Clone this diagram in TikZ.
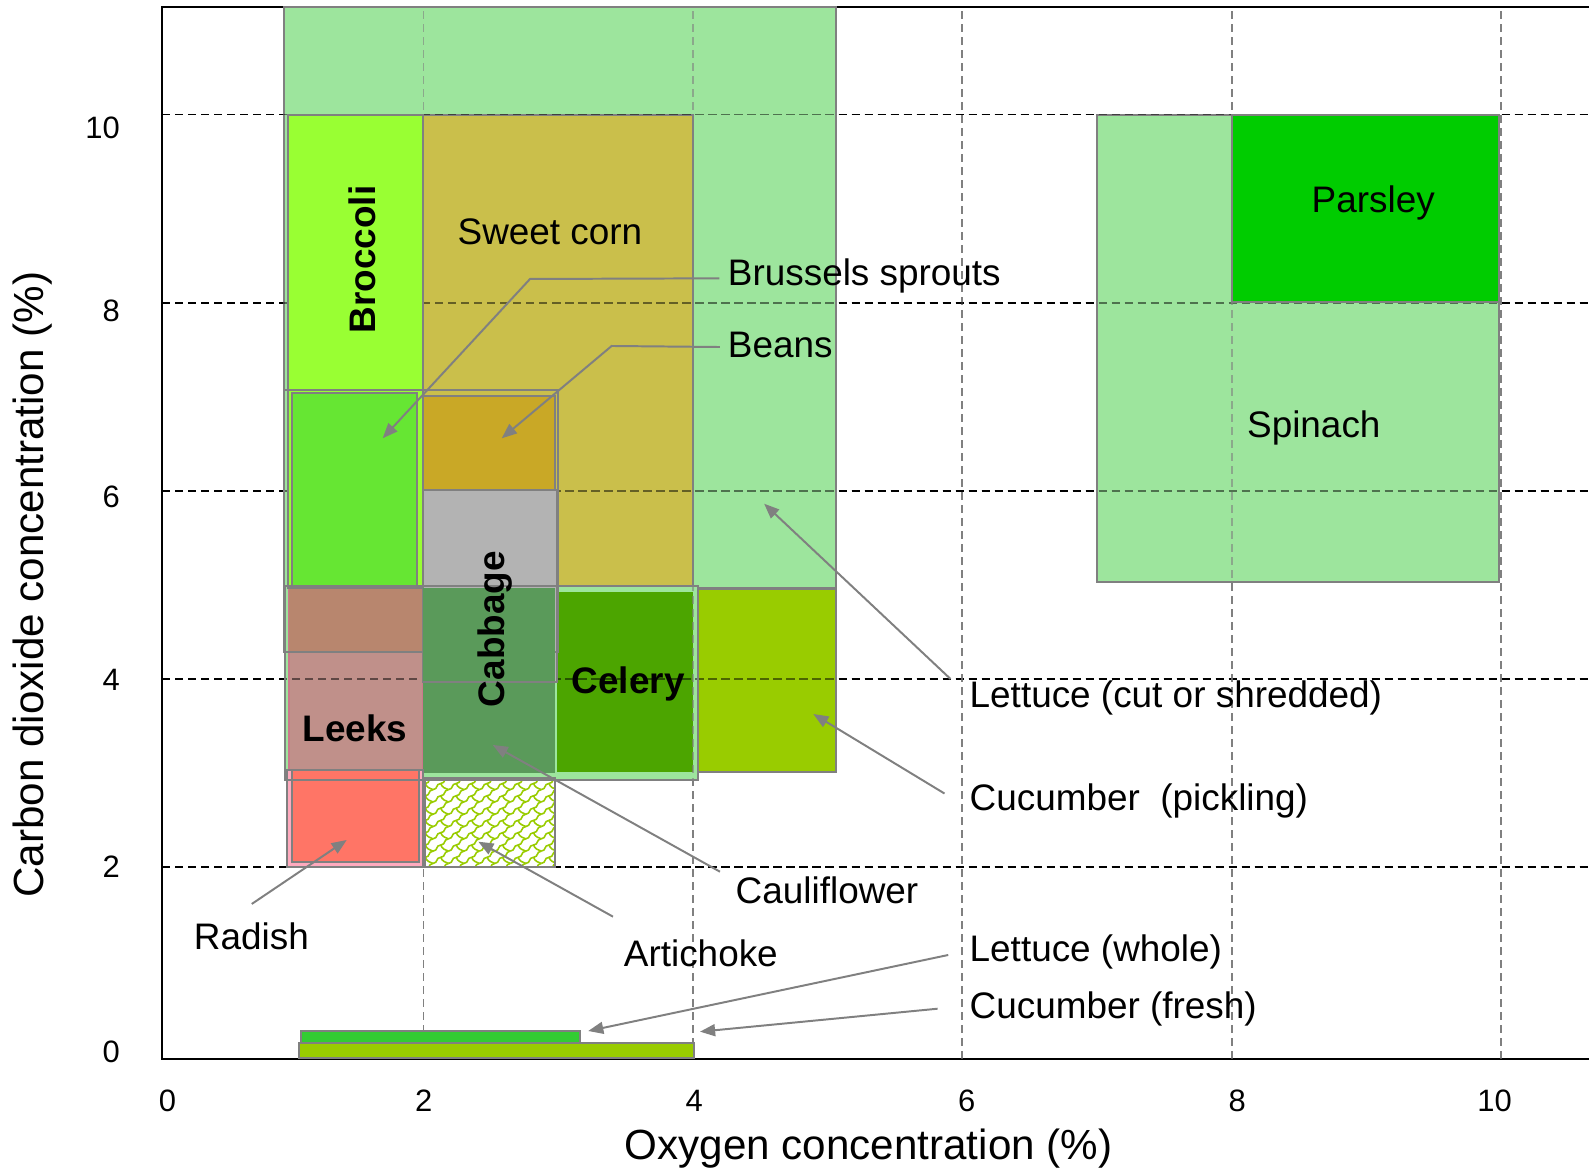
\documentclass[tikz,border=0pt]{standalone}
\usepackage{fontspec}
\setmainfont{Liberation Sans}
\usetikzlibrary{arrows.meta,patterns}

\definecolor{edgegray}{RGB}{128,128,128}
\definecolor{lettucecut}{RGB}{157,229,157}
\definecolor{broccoli}{RGB}{153,255,51}
\definecolor{sweetcorn}{RGB}{202,191,75}
\definecolor{sprouts}{RGB}{102,230,51}
\definecolor{beans}{RGB}{201,168,38}
\definecolor{cabbage}{RGB}{179,179,179}
\definecolor{cabbagemix}{RGB}{90,154,90}
\definecolor{celery}{RGB}{76,165,0}
\definecolor{leeks}{RGB}{192,144,138}
\definecolor{leeksmix}{RGB}{184,134,110}
\definecolor{leeksedge}{RGB}{204,120,140}
\definecolor{cucumber}{RGB}{153,204,0}
\definecolor{radish}{RGB}{255,117,102}
\definecolor{radishedge}{RGB}{255,170,190}
\definecolor{parsley}{RGB}{0,204,0}
\definecolor{lettucewhole}{RGB}{51,204,51}

\pgfdeclarepatternformonly{scales}{\pgfqpoint{-0.5pt}{-0.5pt}}{\pgfqpoint{4.9pt}{4pt}}{\pgfqpoint{4.4pt}{3.5pt}}{%
  \pgfsetlinewidth{0.45pt}%
  \pgfpathmoveto{\pgfqpoint{0pt}{0pt}}%
  \pgfpathcurveto{\pgfqpoint{1.6pt}{0.2pt}}{\pgfqpoint{0.6pt}{1.6pt}}{\pgfqpoint{2.2pt}{1.75pt}}%
  \pgfpathcurveto{\pgfqpoint{3.8pt}{1.9pt}}{\pgfqpoint{2.8pt}{3.3pt}}{\pgfqpoint{4.4pt}{3.5pt}}%
  \pgfpathmoveto{\pgfqpoint{2.2pt}{1.75pt}}%
  \pgfpathcurveto{\pgfqpoint{2.6pt}{0.6pt}}{\pgfqpoint{3.6pt}{0.3pt}}{\pgfqpoint{4.4pt}{0pt}}%
  \pgfusepath{stroke}}

\begin{document}
\begin{tikzpicture}
    [x=1.347cm, y=0.941cm,
    box/.style={draw=edgegray, line width=0.62pt},
    hgrid/.style={draw=black, line width=0.48pt, dash pattern=on 2.3pt off 1.4pt},
    vgrid/.style={draw=edgegray, line width=0.48pt, dash pattern=on 2.3pt off 1.4pt},
    pointer/.style={draw=edgegray, line width=0.56pt, -{Triangle[length=4.3pt, width=3.4pt]}},
    tag/.style={font=\fontsize{10.5}{12}\selectfont, inner sep=0pt},
    crop/.style={font=\fontsize{10.5}{12}\selectfont\bfseries, inner sep=0pt},
    num/.style={font=\fontsize{8.8}{10}\selectfont, inner sep=0pt},
    axistitle/.style={font=\fontsize{12}{14}\selectfont, inner sep=0pt}]
    \useasboundingbox (-1.144,-1.2274) rectangle (10.653,11.217);

    % grid and frame
    \foreach \v in {2,4,...,10} {
      \draw[hgrid] (0.061,\v) -- (10.653,\v);
      \draw[vgrid] (\v,-0.037) -- (\v,11.139);
    }
    \draw[line width=0.5pt] (10.653,-0.037) -- (0.061,-0.037) -- (0.061,11.139) -- (10.653,11.139);

    % ranges the grid shows through
    \filldraw[box, fill=lettucecut] (0.964,4.968) rectangle (5.062,11.139);
    \filldraw[box, fill=lettucecut] (7.002,5.035) rectangle (9.985,9.995);
    \filldraw[box, fill=sweetcorn] (1.999,4.968) rectangle (4.003,9.995);
    \fill[lettucecut] (0.972,2.928) rectangle (4.038,4.985);
    \filldraw[draw=leeksedge, line width=0.57pt, fill=leeks] (1.004,3.002) rectangle (1.999,4.968);
    \fill[leeksmix] (1.004,4.291) rectangle (1.999,4.968);
    \fill[celery] (2.989,3.016) rectangle (4.003,4.929);
    \filldraw[box, fill=cucumber] (4.038,3.016) rectangle (5.062,4.954);
    \foreach \v in {2,4,...,10} {
      \draw[hgrid, draw opacity=0.5] (0.061,\v) -- (10.653,\v);
      \draw[vgrid, draw opacity=0.6] (\v,-0.037) -- (\v,11.139);
    }

    % solid ranges
    \filldraw[box, fill=broccoli] (0.992,4.968) rectangle (1.999,9.995);
    \filldraw[box, fill=sprouts] (1.022,4.968) rectangle (1.954,7.044);
    \filldraw[box, fill=cabbage] (1.999,3.972) rectangle (2.991,6.010);
    \draw[box] (0.964,4.291) rectangle (2.999,7.072);
    \fill[cabbagemix] (1.999,3.002) rectangle (2.976,4.968);
    \draw[box] (1.999,3.972) -- (2.991,3.972);
    \filldraw[box, fill=beans] (1.999,6.010) rectangle (2.976,7.009);
    \filldraw[box, fill=parsley] (8.005,8.011) rectangle (9.985,9.995);
    \filldraw[box, fill=radishedge] (0.984,2.003) rectangle (1.994,3.034);
    \filldraw[box, fill=radish] (1.022,2.059) rectangle (1.969,3.034);
    \filldraw[box, fill=white] (2.011,2.0) rectangle (2.976,2.949);
    \fill[pattern=scales, pattern color=cucumber] (2.011,2.0) rectangle (2.976,2.949);
    \draw[box] (2.011,2.0) rectangle (2.976,2.949);
    \draw[box] (0.972,2.928) rectangle (4.038,4.985);
    \filldraw[box, fill=cucumber] (1.076,-0.03) rectangle (4.008,0.136);
    \filldraw[box, fill=lettucewhole] (1.088,0.136) rectangle (3.162,0.264);

    % names inside the ranges
    \node[crop, rotate=90] (broc) at (1.547,8.459) {Broccoli};
    \node[tag] (corn) at (2.939,8.755) {Sweet corn};
    \node[tag] (pars) at (9.051,9.059) {Parsley};
    \node[tag] (spin) at (8.610,6.665) {Spinach};
    \node[crop, rotate=90] (cabb) at (2.531,4.530) {Cabbage};
    \node[crop] (cel) at (3.520,3.948) {Celery};
    \node[crop] (leek) at (1.491,3.477) {Leeks};

    % names outside, with pointers
    \node[tag, anchor=west] (brus) at (4.255,8.284) {Brussels sprouts};
    \node[tag, anchor=west] (bean) at (4.255,7.551) {Beans};
    \node[tag, anchor=west] (lcut) at (6.05,3.797) {Lettuce (cut or shredded)};
    \node[tag, anchor=west] (cpick) at (6.05,2.709) {Cucumber\ \ (pickling)};
    \node[tag, anchor=west] (caul) at (4.313,1.759) {Cauliflower};
    \node[tag, anchor=west] (arti) at (3.483,1.086) {Artichoke};
    \node[tag, anchor=west] (rad) at (0.291,1.262) {Radish};
    \node[tag, anchor=west] (lwhole) at (6.05,1.100) {Lettuce (whole)};
    \node[tag, anchor=west] (cfresh) at (6.05,0.494) {Cucumber (fresh)};

    \coordinate (brus-a) at (4.196,8.259);
    \coordinate (brus-b) at (2.791,8.252);
    \coordinate (brus-c) at (1.697,6.559);
    \coordinate (bean-a) at (4.201,7.529);
    \coordinate (bean-b) at (3.397,7.540);
    \coordinate (bean-c) at (2.581,6.559);
    \coordinate (lcut-a) at (5.913,4.001);
    \coordinate (lcut-c) at (4.529,5.864);
    \coordinate (cpick-a) at (5.868,2.784);
    \coordinate (cpick-c) at (4.894,3.629);
    \coordinate (caul-a) at (4.201,1.953);
    \coordinate (caul-c) at (2.514,3.300);
    \coordinate (arti-a) at (3.407,1.475);
    \coordinate (arti-c) at (2.407,2.272);
    \coordinate (rad-a) at (0.725,1.610);
    \coordinate (rad-c) at (1.430,2.290);
    \coordinate (lwhole-a) at (5.896,1.068);
    \coordinate (lwhole-c) at (3.223,0.260);
    \coordinate (cfresh-a) at (5.817,0.497);
    \coordinate (cfresh-c) at (4.053,0.253);
    \draw[pointer] (brus-a) -- (brus-b) -- (brus-c);
    \draw[pointer] (bean-a) -- (bean-b) -- (bean-c);
    \draw[pointer] (lcut-a) -- (lcut-c);
    \draw[pointer] (cpick-a) -- (cpick-c);
    \draw[pointer] (caul-a) -- (caul-c);
    \draw[pointer] (arti-a) -- (arti-c);
    \draw[pointer] (rad-a) -- (rad-c);
    \draw[pointer] (lwhole-a) -- (lwhole-c);
    \draw[pointer] (cfresh-a) -- (cfresh-c);

    % axes
    \foreach \v/\p in {0/0.038, 2/2.008, 4/3.990, 6/5.939, 8/7.911, 10/9.853}
      \node[num, anchor=east] (y\v) at (-0.25,\p) {\v};
    \foreach \v/\p in {0/0.099, 2/2.001, 4/4.010, 6/6.033, 8/8.042, 10/9.952}
      \node[num] (x\v) at (\p,-0.484) {\v};
    \node[axistitle] (xlab) at (5.304,-0.985) {Oxygen concentration (\%)};
    \node[axistitle, rotate=90] (ylab) at (-0.903,5.003) {Carbon dioxide concentration (\%)};
  \end{tikzpicture}
\end{document}
